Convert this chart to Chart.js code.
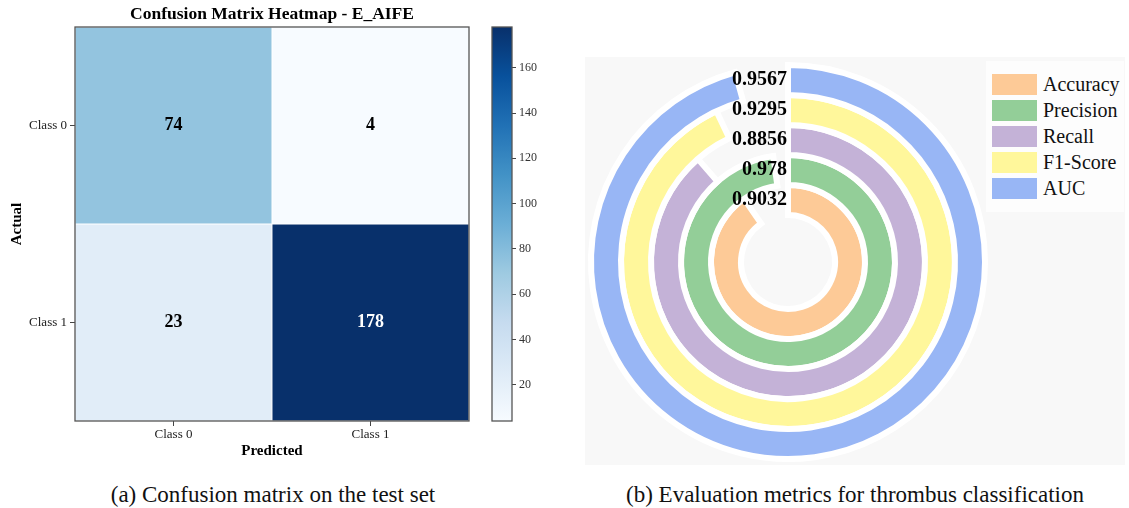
<!DOCTYPE html>
<html>
<head>
<meta charset="utf-8">
<title>Confusion matrix and evaluation metrics</title>
<script src="https://cdn.jsdelivr.net/npm/chart.js@4.4.0/dist/chart.umd.min.js"></script>
<style>
  html, body { margin: 0; padding: 0; background: #fff; }
  body {
    width: 1129px; height: 508px; position: relative; overflow: hidden;
    font-family: 'Liberation Serif', 'Times New Roman', serif; color: #111;
  }
  .abs { position: absolute; }
  #cmWrap   { left: 0;     top: 0;    width: 544px; height: 464px; }
  #cbWrap   { left: 440px; top: 0;    width: 112px; height: 464px; }
  #panelB   { left: 585px; top: 57px; width: 540px; height: 408px; background: #f8f8f8; }
  #ringWrap { left: 585px; top: 57px; width: 406px; height: 410px; }
  #legend   { left: 986px; top: 61px; width: 138px; height: 151px; background: #fdfdfd; }
  .leg-item { position: absolute; left: 6px; height: 21px; }
  .leg-sw   { position: absolute; left: 0; top: 0; width: 45px; height: 21px; }
  .leg-tx   { position: absolute; left: 51px; top: -2px; font-size: 20px; line-height: 24px; white-space: nowrap; color: #111; }
  .caption  { position: absolute; top: 483px; font-size: 23px; line-height: 24px; white-space: nowrap; transform: translateX(-50%); color: #111; }
</style>
</head>
<body>
<div id="cmWrap" class="abs"><canvas id="cm"></canvas></div>
<div id="cbWrap" class="abs"><canvas id="cb"></canvas></div>
<div id="panelB" class="abs"></div>
<div id="ringWrap" class="abs"><canvas id="rings"></canvas></div>
<div id="legend" class="abs"></div>
<div class="caption" style="left:273px">(a) Confusion matrix on the test set</div>
<div class="caption" style="left:855px">(b) Evaluation metrics for thrombus classification</div>

<script>
// ---- data ----
const classLabels = ['Class 0', 'Class 1'];
// rows = actual class, columns = predicted class
const confusionCounts = [
  [74, 4],
  [23, 178]
];
const colorbarTicks = [20, 40, 60, 80, 100, 120, 140, 160];

const metricNames  = ['Accuracy', 'Precision', 'Recall', 'F1-Score', 'AUC'];
const metricValues = [0.9032, 0.978, 0.8856, 0.9295, 0.9567];

// ---- styles ----
const SERIF = "'Liberation Serif', 'Times New Roman', serif";
Chart.defaults.font.family = SERIF;
Chart.defaults.color = '#222';
const metricColors = ['#fdca97', '#93ce98', '#c4b2d7', '#fff79b', '#98b6f5'];
const BLUES = ['#f7fbff', '#deebf7', '#c6dbef', '#9ecae1', '#6baed6',
               '#4292c6', '#2171b5', '#08519c', '#08306b'];

function hexToRgb(h) {
  return [parseInt(h.slice(1, 3), 16), parseInt(h.slice(3, 5), 16), parseInt(h.slice(5, 7), 16)];
}
function bluesAt(t) {
  t = Math.max(0, Math.min(1, t));
  const p = t * (BLUES.length - 1);
  const i = Math.min(Math.floor(p), BLUES.length - 2);
  const f = p - i;
  const a = hexToRgb(BLUES[i]), b = hexToRgb(BLUES[i + 1]);
  const c = a.map((v, k) => Math.round(v + (b[k] - v) * f));
  return `rgb(${c[0]},${c[1]},${c[2]})`;
}

const allCounts = confusionCounts.flat();
const vMin = Math.min(...allCounts);
const vMax = Math.max(...allCounts);
const norm = v => (v - vMin) / (vMax - vMin);

// frame around the plotting area
const framePlugin = {
  id: 'frame',
  afterDatasetsDraw(chart) {
    const { ctx, chartArea: a } = chart;
    ctx.save();
    ctx.strokeStyle = '#555';
    ctx.lineWidth = 1.3;
    ctx.strokeRect(a.left, a.top, a.right - a.left, a.bottom - a.top);
    ctx.restore();
  }
};

// ---- confusion matrix heatmap ----
const cellText = {
  id: 'cellText',
  afterDatasetsDraw(chart) {
    const { ctx } = chart;
    ctx.save();
    ctx.font = `bold 18px ${SERIF}`;
    ctx.textAlign = 'center';
    ctx.textBaseline = 'middle';
    confusionCounts.forEach((row, r) => {
      const meta = chart.getDatasetMeta(r);
      meta.data.forEach((bar, c) => {
        const p = bar.getCenterPoint();
        const v = row[c];
        ctx.fillStyle = norm(v) > 0.5 ? '#fff' : '#000';
        ctx.fillText(String(v), p.x, p.y);
      });
    });
    ctx.restore();
  }
};

new Chart(document.getElementById('cm'), {
  type: 'bar',
  data: {
    labels: classLabels,
    datasets: confusionCounts.map((row, r) => ({
      label: classLabels[r],
      data: row.map(() => [r, r + 1]),
      backgroundColor: row.map(v => bluesAt(norm(v))),
      borderColor: 'rgba(255,255,255,0.45)',
      borderWidth: 0.8,
      borderSkipped: false,
      barPercentage: 1,
      categoryPercentage: 1
    }))
  },
  options: {
    responsive: true,
    maintainAspectRatio: false,
    animation: false,
    events: [],
    layout: { padding: { left: 0, right: 75, top: 0, bottom: 0 } },
    datasets: { bar: { grouped: false } },
    plugins: {
      legend: { display: false },
      tooltip: { enabled: false },
      title: {
        display: true,
        fullSize: false,
        text: 'Confusion Matrix Heatmap - E_AIFE',
        color: '#000',
        font: { size: 17.5, weight: 'bold' },
        padding: { top: 4, bottom: 2 }
      }
    },
    scales: {
      x: {
        type: 'category',
        offset: true,
        grid: { offset: false, drawOnChartArea: false, drawTicks: true, tickLength: 5, color: '#444' },
        border: { display: false },
        ticks: { font: { size: 13 }, color: '#222', padding: 1 },
        title: { display: true, text: 'Predicted', color: '#000', font: { size: 15, weight: 'bold' }, padding: { top: 4, bottom: 4 } },
        afterFit(scale) { scale.height = 43; }
      },
      y: {
        type: 'linear',
        min: 0,
        max: classLabels.length,
        reverse: true,
        grid: { drawOnChartArea: false, drawTicks: true, tickLength: 5, color: '#444' },
        border: { display: false },
        afterBuildTicks(scale) { scale.ticks = classLabels.map((_, i) => ({ value: i + 0.5 })); },
        ticks: {
          font: { size: 13 }, color: '#222', padding: 3,
          callback: v => classLabels[Math.floor(v)]
        },
        title: { display: true, text: 'Actual', color: '#000', font: { size: 15, weight: 'bold' }, padding: { top: 8, bottom: 0 } },
        afterFit(scale) { scale.width = 75; }
      }
    }
  },
  plugins: [cellText, framePlugin]
});

// ---- colour bar ----
let cbGradient = null;
new Chart(document.getElementById('cb'), {
  type: 'bar',
  data: {
    labels: [''],
    datasets: [{
      data: [[vMin, vMax]],
      backgroundColor(ctx) {
        const a = ctx.chart.chartArea;
        if (!a) return BLUES[4];
        if (!cbGradient) {
          cbGradient = ctx.chart.ctx.createLinearGradient(0, a.bottom, 0, a.top);
          BLUES.forEach((c, i) => cbGradient.addColorStop(i / (BLUES.length - 1), c));
        }
        return cbGradient;
      },
      borderWidth: 0,
      barPercentage: 1,
      categoryPercentage: 1
    }]
  },
  options: {
    responsive: true,
    maintainAspectRatio: false,
    animation: false,
    events: [],
    layout: { padding: { left: 52, right: 0, top: 27, bottom: 43 } },
    plugins: { legend: { display: false }, tooltip: { enabled: false } },
    scales: {
      x: { display: false },
      y: {
        type: 'linear',
        position: 'right',
        min: vMin,
        max: vMax,
        grid: { drawOnChartArea: false, drawTicks: true, tickLength: 4, color: '#444' },
        border: { display: false },
        afterBuildTicks(scale) { scale.ticks = colorbarTicks.map(v => ({ value: v })); },
        ticks: { font: { size: 12 }, color: '#333', padding: 3 },
        afterFit(scale) { scale.width = 40; }
      }
    }
  },
  plugins: [framePlugin]
});

// ---- evaluation metric rings (outermost = AUC, innermost = Accuracy) ----
const ringOrder = [4, 3, 2, 1, 0];

const ringLabels = {
  id: 'ringLabels',
  afterDatasetsDraw(chart) {
    const { ctx } = chart;
    ctx.save();
    ctx.font = `bold 20px ${SERIF}`;
    ctx.fillStyle = '#000';
    ctx.textAlign = 'right';
    ctx.textBaseline = 'middle';
    ringOrder.forEach((m, d) => {
      const arc = chart.getDatasetMeta(d).data[0];
      const r = (arc.innerRadius + arc.outerRadius) / 2;
      ctx.fillText(String(metricValues[m]), arc.x - 1, arc.y - r);
    });
    ctx.restore();
  }
};

new Chart(document.getElementById('rings'), {
  type: 'doughnut',
  data: {
    labels: ['value', 'rest'],
    datasets: ringOrder.map(m => ({
      label: metricNames[m],
      data: [metricValues[m], 1 - metricValues[m]],
      backgroundColor: [metricColors[m], 'rgba(0,0,0,0)'],
      borderColor: ['#ffffff', 'rgba(0,0,0,0)'],
      borderWidth: [6, 0],
      borderJoinStyle: 'miter',
      weight: 1
    }))
  },
  options: {
    responsive: true,
    maintainAspectRatio: false,
    animation: false,
    events: [],
    radius: 197,
    cutout: ((197 - 150) / 197 * 100).toFixed(2) + '%',
    rotation: 0,
    plugins: { legend: { display: false }, tooltip: { enabled: false } }
  },
  plugins: [ringLabels]
});

// legend for the rings
const legend = document.getElementById('legend');
metricNames.forEach((name, i) => {
  const item = document.createElement('div');
  item.className = 'leg-item';
  item.style.top = (13 + i * 26) + 'px';
  const sw = document.createElement('div');
  sw.className = 'leg-sw';
  sw.style.background = metricColors[i];
  const tx = document.createElement('div');
  tx.className = 'leg-tx';
  tx.textContent = name;
  item.appendChild(sw);
  item.appendChild(tx);
  legend.appendChild(item);
});
</script>
</body>
</html>
